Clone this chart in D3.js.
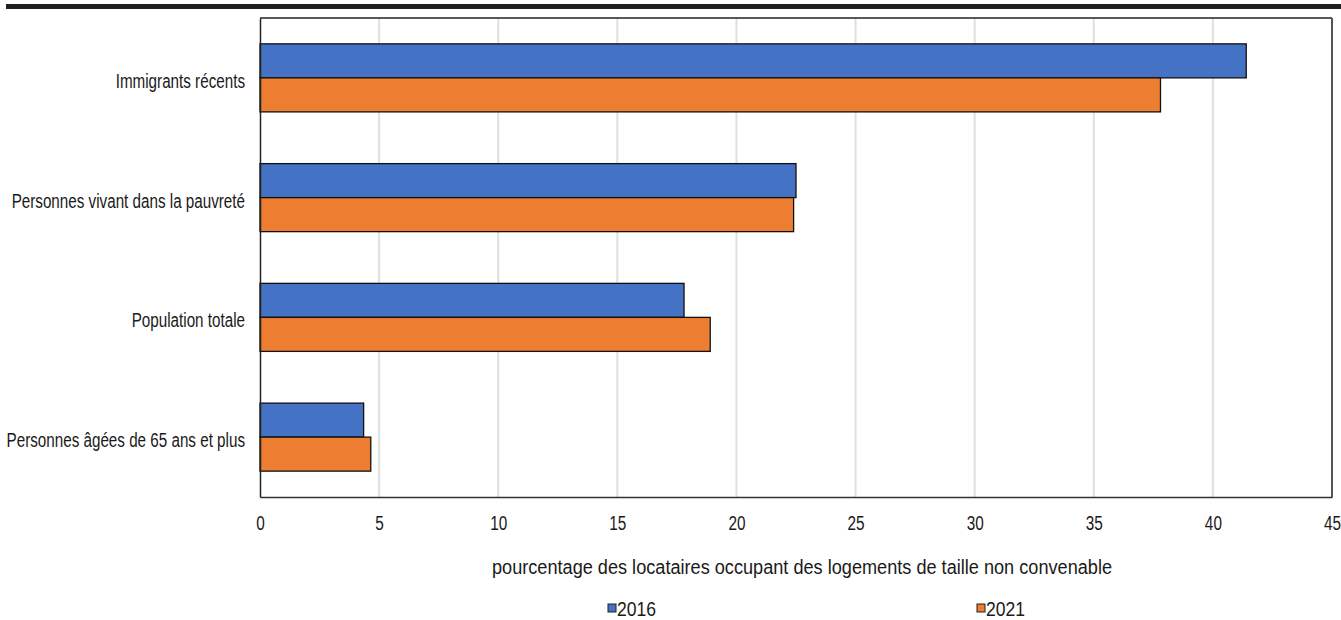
<!DOCTYPE html>
<html>
<head>
<meta charset="utf-8">
<script src="https://cdn.jsdelivr.net/npm/d3@7"></script>
<style>
  body { margin: 0; background: #fff; }
  svg text { font-family: "Liberation Sans", Arial, sans-serif; fill: #1a1a1a; }
</style>
</head>
<body>
<svg id="chart" width="1341" height="620"></svg>
<script>
// Rental housing groups, share of tenants in unsuitable housing (%)
const categories = [
  "Immigrants récents",
  "Personnes vivant dans la pauvreté",
  "Population totale",
  "Personnes âgées de 65 ans et plus"
];
const years = ["2016", "2021"];
const values2016 = [41.4, 22.5, 17.8, 4.35];
const values2021 = [37.8, 22.4, 18.9, 4.65];
const xTicks = [0, 5, 10, 15, 20, 25, 30, 35, 40, 45];
const axisTitle = "pourcentage des locataires occupant des logements de taille non convenable";
const colors = { "2016": "#4472c4", "2021": "#ed7d31" };

const FONT_SIZE = 19.5;

const svg = d3.select("#chart");
const margin = { left: 260, right: 9, top: 18, bottom: 123 };
const width = 1341, height = 620;

// squeeze text horizontally to a narrow width
function condense(sel, factor) {
  sel.each(function () {
    const len = this.getComputedTextLength();
    d3.select(this).attr("textLength", len * factor).attr("lengthAdjust", "spacingAndGlyphs");
  });
}

// top rule
svg.append("rect").attr("x", 6).attr("y", 4).attr("width", width - 6).attr("height", 5).attr("fill", "#231f20");

const x = d3.scaleLinear().domain([0, 45]).range([margin.left, width - margin.right]);
const y = d3.scaleBand().domain(categories).range([margin.top, height - margin.bottom]).paddingInner(0.432).paddingOuter(0.216);
const ySub = d3.scaleBand().domain(years).range([0, y.bandwidth()]);

const plotTop = margin.top, plotBottom = height - margin.bottom;

// gridlines
svg.append("g").selectAll("line").data(xTicks.filter(t => t > 0 && t < 45)).join("line")
  .attr("x1", d => x(d)).attr("x2", d => x(d))
  .attr("y1", plotTop).attr("y2", plotBottom)
  .attr("stroke", "#e0e0e0").attr("stroke-width", 2);

// bars
const rows = categories.map((c, i) => ({ c, vals: [{ year: "2016", v: values2016[i] }, { year: "2021", v: values2021[i] }] }));
const g = svg.append("g").selectAll("g").data(rows).join("g")
  .attr("transform", d => `translate(0,${y(d.c)})`);
g.selectAll("rect").data(d => d.vals).join("rect")
  .attr("x", x(0))
  .attr("y", d => ySub(d.year))
  .attr("width", d => x(d.v) - x(0))
  .attr("height", ySub.bandwidth())
  .attr("fill", d => colors[d.year])
  .attr("stroke", "#111").attr("stroke-width", 1.3);

// frame
svg.append("line").attr("x1", x(0)).attr("x2", x(45)).attr("y1", plotTop).attr("y2", plotTop).attr("stroke", "#222").attr("stroke-width", 1.5);
svg.append("line").attr("x1", x(45)).attr("x2", x(45)).attr("y1", plotTop).attr("y2", plotBottom).attr("stroke", "#555").attr("stroke-width", 2);

// x axis
const xAxis = svg.append("g").attr("transform", `translate(0,${plotBottom})`)
  .call(d3.axisBottom(x).tickValues(xTicks).tickSize(0).tickPadding(19));
xAxis.select(".domain").attr("stroke", "#333").attr("stroke-width", 1.5);
xAxis.selectAll("text").attr("font-size", FONT_SIZE).style("font-family", null).call(condense, 0.785);

// y axis
const yAxis = svg.append("g").attr("transform", `translate(${x(0)},0)`)
  .call(d3.axisLeft(y).tickSize(0).tickPadding(15));
yAxis.select(".domain").attr("stroke", "#222").attr("stroke-width", 1.5);
yAxis.selectAll("text").attr("font-size", FONT_SIZE).attr("dy", "0.51em").style("font-family", null).call(condense, 0.78);

// axis title
svg.append("text").attr("x", 802).attr("y", 573.5).attr("text-anchor", "middle")
  .attr("font-size", FONT_SIZE).text(axisTitle).call(condense, 0.93);

// legend
const legendX = { "2016": 608, "2021": 977 };
years.forEach(yr => {
  svg.append("rect").attr("x", legendX[yr]).attr("y", 604).attr("width", 8).attr("height", 8)
    .attr("fill", colors[yr]).attr("stroke", "#222").attr("stroke-width", 1);
  svg.append("text").attr("x", legendX[yr] + 9).attr("y", 616).attr("font-size", FONT_SIZE).text(yr).call(condense, 0.9);
});
</script>
</body>
</html>
